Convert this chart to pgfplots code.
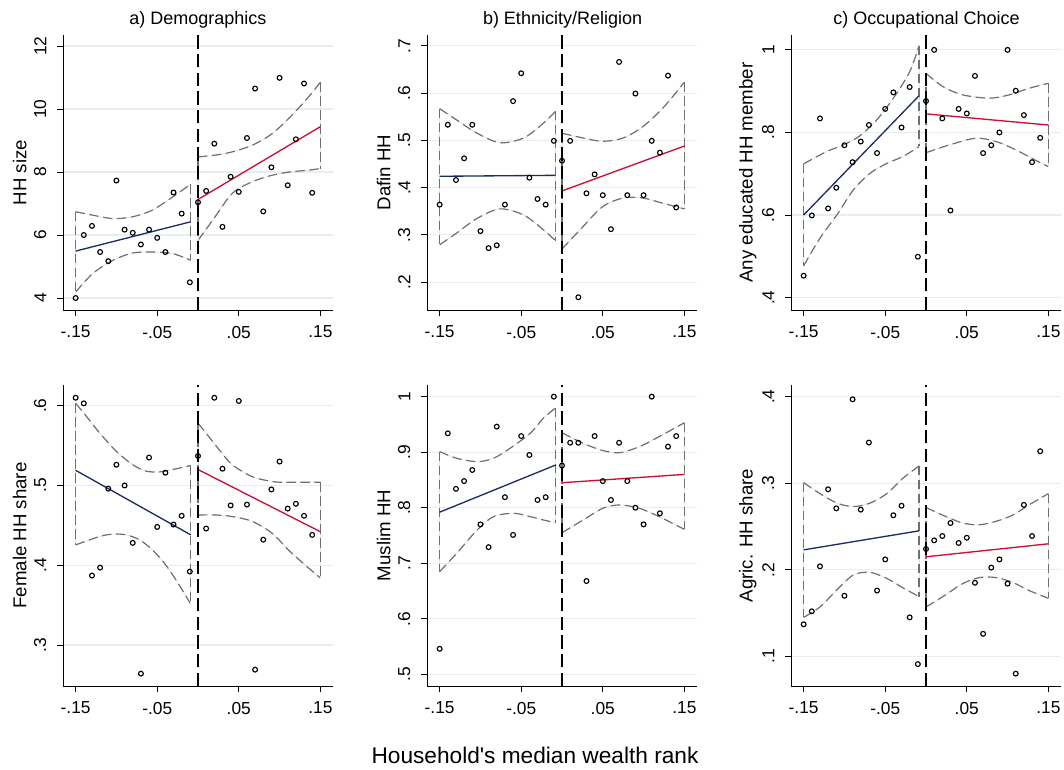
\documentclass[border=0pt]{standalone}
\usepackage{fontspec}
\setmainfont{Liberation Sans}
\usepackage{pgfplots}
\pgfplotsset{compat=1.18}

\definecolor{navyc}{RGB}{30,45,95}
\definecolor{redc}{RGB}{205,15,55}
\definecolor{cigray}{RGB}{112,112,112}
\definecolor{cifaintc}{RGB}{222,230,234}
\definecolor{gridc}{RGB}{230,238,241}

\pgfplotsset{
  panel/.style={
    scale only axis,
    axis x line*=bottom, axis y line*=left,
    x axis line style={-}, y axis line style={-},
    axis line style={black, line width=0.6pt},
    xmin=-0.1655, xmax=0.1655,
    xtick={-0.15,-0.05,0.05,0.15},
    xticklabels={-.15,-.05,.05,.15},
    tick align=outside, major tick length=4.5pt,
    tick style={black, line width=0.6pt},
    ymajorgrids, grid style={gridc, line width=0.9pt},
    /pgf/number format/assume math mode=true,
    ticklabel style={font=\fontsize{13}{13}\selectfont},
    xticklabel style={yshift=-4pt},
    yticklabel style={rotate=90, anchor=south, yshift=4.5pt},
    ylabel style={font=\fontsize{14}{14}\selectfont,
      at={(axis description cs:-0.16,0.5)}, anchor=center},
  },
  toprow/.style={panel, width=202.5pt, height=206.25pt},
  botrow/.style={panel, width=202.5pt, height=225.75pt},
  cidash/.style={cigray, line width=0.9pt, dash pattern=on 7pt off 3.5pt},
  cifaint/.style={cifaintc, line width=0.5pt},
  pts/.style={only marks, mark=o, mark size=1.8pt,
    mark options={black, line width=0.85pt}},
  leftfit/.style={navyc, line width=1pt},
  rightfit/.style={redc, line width=1pt},
  cutoff/.style={black, line width=1.5pt, dash pattern=on 10pt off 4pt},
}

% confidence band pieces: curved edge and straight end
\newcommand{\cic}[1]{%
  \addplot[cifaint, smooth] coordinates {#1};
  \addplot[cidash, smooth] coordinates {#1};}
\newcommand{\cie}[1]{%
  \addplot[cifaint] coordinates {#1};
  \addplot[cidash] coordinates {#1};}

\begin{document}
\begin{tikzpicture}
\path[use as bounding box] (0,0) rectangle (798pt,576.75pt);

% ---------------- a) Demographics: HH size
\begin{axis}[toprow, at={(47.25pt,344.25pt)}, anchor=south west,
  ymin=3.62, ymax=12.35, ytick={4,6,8,10,12}, yticklabels={4,6,8,10,12},
  ylabel={HH size}]
\cic{(-0.15,6.74) (-0.129,6.63) (-0.104,6.52) (-0.080,6.58) (-0.056,6.79) (-0.031,7.21) (-0.009,7.61)}
\cic{(-0.15,4.19) (-0.129,4.78) (-0.104,5.20) (-0.080,5.43) (-0.056,5.46) (-0.031,5.41) (-0.009,5.20)}
\cie{(-0.15,6.74) (-0.15,4.19)}
\cie{(-0.009,7.61) (-0.009,5.20)}
\cic{(0,8.48) (0.022,8.54) (0.042,8.64) (0.0665,8.85) (0.091,9.22) (0.115,9.80) (0.136,10.40) (0.15,10.85)}
\cic{(0,5.83) (0.018,6.47) (0.042,7.32) (0.0665,7.69) (0.091,7.90) (0.115,8.01) (0.136,8.06) (0.15,8.11)}
\cie{(0,8.48) (0,5.83)}
\cie{(0.15,10.85) (0.15,8.11)}
\addplot[leftfit] coordinates {(-0.15,5.49) (-0.009,6.42)};
\addplot[rightfit] coordinates {(0,7.13) (0.15,9.44)};
\addplot[cutoff] coordinates {(0,3.62) (0,12.35)};
\addplot[pts] coordinates {(-0.15,4.00) (-0.14,6.00) (-0.13,6.29) (-0.12,5.46) (-0.11,5.17) (-0.10,7.73) (-0.09,6.17) (-0.08,6.07) (-0.07,5.70) (-0.06,6.17) (-0.05,5.91) (-0.04,5.46) (-0.03,7.35) (-0.02,6.68) (-0.01,4.50)
 (0.00,7.04) (0.01,7.40) (0.02,8.90) (0.03,6.26) (0.04,7.85) (0.05,7.37) (0.06,9.08) (0.07,10.65) (0.08,6.75) (0.09,8.15) (0.10,10.99) (0.11,7.58) (0.12,9.04) (0.13,10.81) (0.14,7.34)};
\end{axis}

% ---------------- b) Ethnicity/Religion: Dafin HH
\begin{axis}[toprow, at={(320.25pt,344.25pt)}, anchor=south west,
  ymin=0.141, ymax=0.723, ytick={0.2,0.3,0.4,0.5,0.6,0.7}, yticklabels={.2,.3,.4,.5,.6,.7},
  ylabel={Dafin HH}]
\cic{(-0.15,0.567) (-0.129,0.543) (-0.104,0.515) (-0.076,0.495) (-0.047,0.505) (-0.023,0.536) (-0.0076,0.562)}
\cic{(-0.15,0.279) (-0.129,0.304) (-0.104,0.335) (-0.076,0.355) (-0.047,0.342) (-0.023,0.311) (-0.0076,0.287)}
\cie{(-0.15,0.567) (-0.15,0.279)}
\cie{(-0.0076,0.562) (-0.0076,0.287)}
\cic{(0,0.515) (0.026,0.505) (0.050,0.498) (0.075,0.505) (0.099,0.529) (0.1235,0.568) (0.15,0.623)}
\cic{(0,0.270) (0.026,0.318) (0.050,0.360) (0.075,0.378) (0.099,0.378) (0.1235,0.367) (0.15,0.355)}
\cie{(0,0.515) (0,0.270)}
\cie{(0.15,0.623) (0.15,0.355)}
\addplot[leftfit] coordinates {(-0.15,0.424) (-0.008,0.426)};
\addplot[rightfit] coordinates {(0,0.393) (0.15,0.488)};
\addplot[cutoff] coordinates {(0,0.141) (0,0.723)};
\addplot[pts] coordinates {(-0.15,0.364) (-0.14,0.533) (-0.13,0.416) (-0.12,0.462) (-0.11,0.533) (-0.10,0.308) (-0.09,0.272) (-0.08,0.278) (-0.07,0.364) (-0.06,0.583) (-0.05,0.642) (-0.04,0.421) (-0.03,0.376) (-0.02,0.364) (-0.01,0.499)
 (0.00,0.457) (0.01,0.499) (0.02,0.168) (0.03,0.388) (0.04,0.428) (0.05,0.384) (0.06,0.312) (0.07,0.666) (0.08,0.384) (0.09,0.599) (0.10,0.384) (0.11,0.499) (0.12,0.474) (0.13,0.637) (0.14,0.358)};
\end{axis}

% ---------------- c) Occupational Choice: any educated member
\begin{axis}[toprow, at={(593.25pt,344.25pt)}, anchor=south west,
  ymin=0.370, ymax=1.036, ytick={0.4,0.6,0.8,1}, yticklabels={.4,.6,.8,1},
  ylabel={Any educated HH member}]
\cic{(-0.15,0.724) (-0.1215,0.754) (-0.101,0.770) (-0.081,0.792) (-0.0606,0.830) (-0.040,0.883) (-0.020,0.947) (-0.0085,1.010)}
\cic{(-0.15,0.477) (-0.130,0.544) (-0.109,0.601) (-0.089,0.661) (-0.0687,0.701) (-0.048,0.725) (-0.028,0.742) (-0.0085,0.766)}
\cie{(-0.15,0.724) (-0.15,0.477)}
\cie{(-0.0085,1.010) (-0.0085,0.766)}
\cic{(0,0.943) (0.0207,0.911) (0.045,0.891) (0.0776,0.883) (0.102,0.891) (0.1264,0.907) (0.15,0.919)}
\cic{(0,0.751) (0.029,0.770) (0.061,0.786) (0.0858,0.778) (0.110,0.758) (0.130,0.737) (0.15,0.717)}
\cie{(0,0.943) (0,0.751)}
\cie{(0.15,0.919) (0.15,0.717)}
\addplot[leftfit] coordinates {(-0.15,0.600) (-0.0085,0.889)};
\addplot[rightfit] coordinates {(0,0.845) (0.15,0.818)};
\addplot[cutoff] coordinates {(0,0.370) (0,1.036)};
\addplot[pts] coordinates {(-0.15,0.453) (-0.14,0.599) (-0.13,0.834) (-0.12,0.616) (-0.11,0.666) (-0.10,0.769) (-0.09,0.728) (-0.08,0.778) (-0.07,0.818) (-0.06,0.750) (-0.05,0.857) (-0.04,0.897) (-0.03,0.812) (-0.02,0.910) (-0.01,0.499)
 (0.00,0.876) (0.01,1.000) (0.02,0.834) (0.03,0.611) (0.04,0.857) (0.05,0.846) (0.06,0.937) (0.07,0.750) (0.08,0.769) (0.09,0.800) (0.10,1.000) (0.11,0.901) (0.12,0.842) (0.13,0.728) (0.14,0.787)};
\end{axis}

% ---------------- Female HH share
\begin{axis}[botrow, at={(47.25pt,62.25pt)}, anchor=south west,
  ymin=0.2485, ymax=0.626, ytick={0.3,0.4,0.5,0.6}, yticklabels={.3,.4,.5,.6},
  ylabel={Female HH share}]
\cic{(-0.15,0.603) (-0.137,0.587) (-0.1207,0.566) (-0.1003,0.543) (-0.080,0.526) (-0.0637,0.518) (-0.0474,0.517) (-0.031,0.520) (-0.0088,0.525)}
\cic{(-0.15,0.4255) (-0.1207,0.436) (-0.1044,0.439) (-0.088,0.438) (-0.0719,0.432) (-0.0556,0.419) (-0.0393,0.400) (-0.023,0.375) (-0.0088,0.351)}
\cie{(-0.15,0.603) (-0.15,0.4255)}
\cie{(-0.0088,0.525) (-0.0088,0.351)}
\cic{(0,0.578) (0.0096,0.566) (0.0258,0.545) (0.042,0.526) (0.0665,0.511) (0.091,0.505) (0.107,0.504) (0.15,0.504)}
\cic{(0,0.463) (0.022,0.463) (0.042,0.461) (0.0665,0.455) (0.091,0.440) (0.111,0.419) (0.1316,0.400) (0.15,0.384)}
\cie{(0,0.578) (0,0.463)}
\cie{(0.15,0.504) (0.15,0.384)}
\addplot[leftfit] coordinates {(-0.15,0.519) (-0.0088,0.438)};
\addplot[rightfit] coordinates {(0,0.520) (0.15,0.442)};
\addplot[cutoff] coordinates {(0,0.2485) (0,0.626)};
\addplot[pts] coordinates {(-0.15,0.610) (-0.14,0.603) (-0.13,0.387) (-0.12,0.397) (-0.11,0.496) (-0.10,0.526) (-0.09,0.500) (-0.08,0.428) (-0.07,0.264) (-0.06,0.535) (-0.05,0.448) (-0.04,0.516) (-0.03,0.451) (-0.02,0.462) (-0.01,0.392)
 (0.00,0.537) (0.01,0.446) (0.02,0.610) (0.03,0.521) (0.04,0.475) (0.05,0.606) (0.06,0.476) (0.07,0.269) (0.08,0.432) (0.09,0.495) (0.10,0.530) (0.11,0.471) (0.12,0.477) (0.13,0.462) (0.14,0.438)};
\end{axis}

% ---------------- Muslim HH
\begin{axis}[botrow, at={(320.25pt,62.25pt)}, anchor=south west,
  ymin=0.479, ymax=1.021, ytick={0.5,0.6,0.7,0.8,0.9,1}, yticklabels={.5,.6,.7,.8,.9,1},
  ylabel={Muslim HH}]
\cic{(-0.15,0.901) (-0.129,0.889) (-0.104,0.883) (-0.084,0.889) (-0.0637,0.907) (-0.039,0.934) (-0.023,0.961) (-0.0076,0.980)}
\cic{(-0.15,0.685) (-0.129,0.718) (-0.104,0.760) (-0.084,0.784) (-0.0596,0.790) (-0.039,0.784) (-0.023,0.778) (-0.0076,0.773)}
\cie{(-0.15,0.901) (-0.15,0.685)}
\cie{(-0.0076,0.980) (-0.0076,0.773)}
\cic{(0,0.935) (0.026,0.916) (0.050,0.903) (0.0706,0.899) (0.095,0.910) (0.119,0.928) (0.15,0.953)}
\cic{(0,0.755) (0.026,0.778) (0.050,0.799) (0.0706,0.805) (0.095,0.799) (0.119,0.784) (0.15,0.761)}
\cie{(0,0.935) (0,0.755)}
\cie{(0.15,0.953) (0.15,0.761)}
\addplot[leftfit] coordinates {(-0.15,0.792) (-0.0076,0.877)};
\addplot[rightfit] coordinates {(0,0.845) (0.15,0.860)};
\addplot[cutoff] coordinates {(0,0.479) (0,1.021)};
\addplot[pts] coordinates {(-0.15,0.546) (-0.14,0.934) (-0.13,0.834) (-0.12,0.848) (-0.11,0.868) (-0.10,0.770) (-0.09,0.729) (-0.08,0.946) (-0.07,0.819) (-0.06,0.751) (-0.05,0.929) (-0.04,0.895) (-0.03,0.814) (-0.02,0.819) (-0.01,1.000)
 (0.00,0.876) (0.01,0.917) (0.02,0.917) (0.03,0.668) (0.04,0.929) (0.05,0.848) (0.06,0.814) (0.07,0.917) (0.08,0.848) (0.09,0.800) (0.10,0.770) (0.11,1.000) (0.12,0.790) (0.13,0.910) (0.14,0.929)};
\end{axis}

% ---------------- Agricultural HH share
\begin{axis}[botrow, at={(593.25pt,62.25pt)}, anchor=south west,
  ymin=0.0657, ymax=0.4135, ytick={0.1,0.2,0.3,0.4}, yticklabels={.1,.2,.3,.4},
  ylabel={Agric. HH share}]
\cic{(-0.15,0.3007) (-0.130,0.288) (-0.109,0.277) (-0.089,0.273) (-0.0687,0.277) (-0.048,0.288) (-0.028,0.306) (-0.0085,0.320)}
\cic{(-0.15,0.145) (-0.130,0.157) (-0.109,0.177) (-0.089,0.194) (-0.0687,0.197) (-0.048,0.190) (-0.028,0.179) (-0.0085,0.169)}
\cie{(-0.15,0.3007) (-0.15,0.145)}
\cie{(-0.0085,0.320) (-0.0085,0.169)}
\cic{(0,0.272) (0.0207,0.263) (0.045,0.254) (0.0654,0.252) (0.0858,0.256) (0.106,0.263) (0.1264,0.275) (0.15,0.288)}
\cic{(0,0.157) (0.0207,0.169) (0.045,0.184) (0.0654,0.191) (0.0858,0.191) (0.106,0.1855) (0.1264,0.176) (0.15,0.167)}
\cie{(0,0.272) (0,0.157)}
\cie{(0.15,0.288) (0.15,0.167)}
\addplot[leftfit] coordinates {(-0.15,0.223) (-0.0085,0.245)};
\addplot[rightfit] coordinates {(0,0.215) (0.15,0.230)};
\addplot[cutoff] coordinates {(0,0.0657) (0,0.4135)};
\addplot[pts] coordinates {(-0.15,0.137) (-0.14,0.152) (-0.13,0.204) (-0.12,0.293) (-0.11,0.271) (-0.10,0.170) (-0.09,0.397) (-0.08,0.2695) (-0.07,0.347) (-0.06,0.176) (-0.05,0.212) (-0.04,0.263) (-0.03,0.274) (-0.02,0.145) (-0.01,0.091)
 (0.00,0.224) (0.01,0.234) (0.02,0.239) (0.03,0.254) (0.04,0.231) (0.05,0.237) (0.06,0.185) (0.07,0.126) (0.08,0.2025) (0.09,0.212) (0.10,0.184) (0.11,0.080) (0.12,0.275) (0.13,0.239) (0.14,0.337)};
\end{axis}

% panel titles and common x label
\node[font=\fontsize{13.5}{14}\selectfont] at (148.5pt,561.75pt) {a) Demographics};
\node[font=\fontsize{13.5}{14}\selectfont] at (421.9pt,561.75pt) {b) Ethnicity/Religion};
\node[font=\fontsize{13.5}{14}\selectfont] at (694.9pt,561.75pt) {c) Occupational Choice};
\node[font=\fontsize{17}{17}\selectfont] at (401.25pt,10.5pt) {Household\textquotesingle s median wealth rank};
\end{tikzpicture}
\end{document}
